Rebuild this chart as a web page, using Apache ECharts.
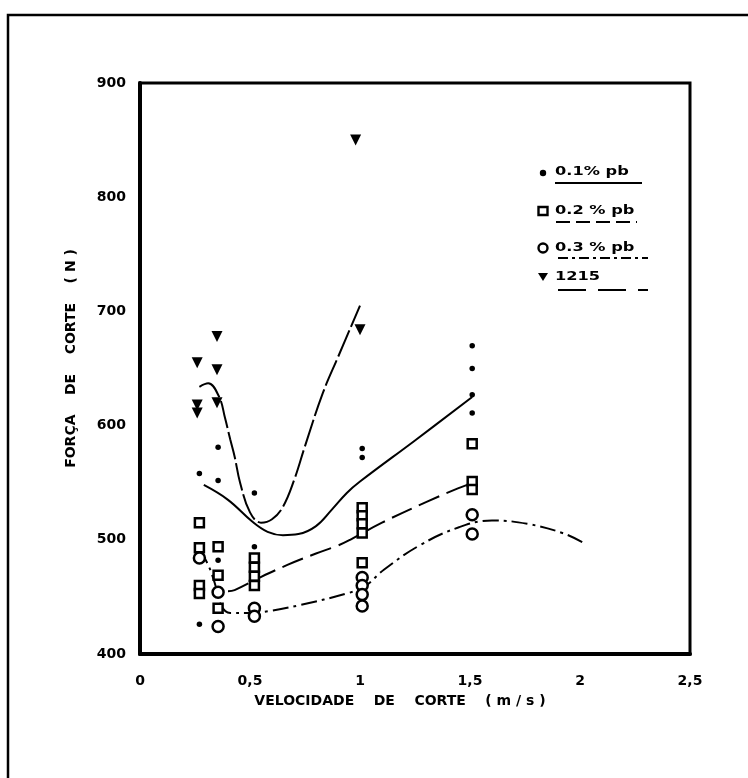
<!DOCTYPE html>
<html>
<head>
<meta charset="utf-8">
<script src="https://cdn.jsdelivr.net/npm/echarts@6/dist/echarts.min.js"></script>
<style>
  html, body { margin: 0; padding: 0; background: #fff; }
  #chart { width: 748px; height: 778px; }
</style>
</head>
<body>
<div id="chart"></div>
<script>
// Measured cutting force (N) against cutting speed (m/s), one list per material
const pb01Points = [[0.27,558],[0.27,426],[0.355,581],[0.355,552],[0.355,482],[0.52,541],[0.52,494],[1.01,580],[1.01,572],[1.51,670],[1.51,650],[1.51,627],[1.51,611]];
const pb02Points = [[0.27,515],[0.27,493],[0.27,460],[0.27,453],[0.355,494],[0.355,469],[0.355,440],[0.52,484],[0.52,476],[0.52,468],[0.52,460],[1.01,528],[1.01,521],[1.01,514],[1.01,506],[1.01,480],[1.51,584],[1.51,551],[1.51,544]];
const pb03Points = [[0.27,484],[0.355,454],[0.355,424],[0.52,440],[0.52,433],[1.01,467],[1.01,460],[1.01,452],[1.01,442],[1.51,522],[1.51,505]];
const s1215Points = [[0.26,655],[0.26,618],[0.26,611],[0.35,678],[0.35,649],[0.35,620],[0.98,850],[1.0,684]];

// Hand-fitted trend curves
const pb01Curve = [[0.29,548],[0.4,535],[0.51,516],[0.58,507],[0.65,504],[0.72,505],[0.8,512],[0.87,526],[0.94,541],[1.0,551],[1.25,587],[1.51,625]];
const pb02Curve = [[0.4,455],[0.43,456],[0.545,467],[0.67,478],[0.8,488],[0.9,495],[0.955,500],[1.1,515],[1.3,533],[1.445,545],[1.5,549]];
const pb03Curve = [[0.27,492],[0.31,478],[0.34,462],[0.37,442],[0.41,436],[0.5,436],[0.6,438],[0.73,443],[0.94,453],[1.02,459],[1.11,474],[1.27,495],[1.45,511],[1.6,517],[1.76,514],[1.92,506],[2.02,497]];
const s1215Curve = [[0.27,634],[0.31,637],[0.36,625],[0.386,607],[0.41,588],[0.43,573],[0.455,550],[0.5,524],[0.55,515],[0.6,518],[0.65,529],[0.7,552],[0.75,582],[0.83,628],[0.9,660],[1.0,705]];

const legendLabels = ['0.1% pb', '0.2 % pb', '0.3 % pb', '1215'];
const xTicks = { min: 0, max: 2.5, step: 0.5 };
const yTicks = { min: 400, max: 900, step: 100 };

const FONT = 'DejaVu Sans';
const INK = '#000';

const dashes = {
  pb01: 'solid',
  pb02: [22, 8],
  pb03: [16, 5, 3, 5],
  s1215: [28, 4]
};

function curve(name, data, dash) {
  return {
    name: name, type: 'line', data: data, smooth: 0.4,
    showSymbol: false, silent: true, z: 2,
    lineStyle: { color: INK, width: 2, type: dash }
  };
}

function points(name, data, symbol, size, filled, rotate) {
  return {
    name: name, type: 'scatter', data: data, symbol: symbol,
    symbolSize: size, symbolRotate: rotate || 0, z: 5,
    itemStyle: filled
      ? { color: INK, opacity: 1 }
      : { color: '#fff', borderColor: INK, borderWidth: 2.5, opacity: 1 }
  };
}

// Legend block: marker, label and a sample of the line style underneath
const legendX = 543, textX = 555;
const legendRows = [172, 211, 248, 277];
const legendGraphics = [];
legendLabels.forEach(function (label, i) {
  const y = legendRows[i];
  if (i === 0) legendGraphics.push({ type: 'circle', shape: { cx: legendX, cy: y + 1, r: 3.2 }, style: { fill: INK } });
  if (i === 1) legendGraphics.push({ type: 'rect', shape: { x: legendX - 4.5, y: y - 4, width: 9, height: 8 }, style: { fill: '#fff', stroke: INK, lineWidth: 2.4 } });
  if (i === 2) legendGraphics.push({ type: 'circle', shape: { cx: legendX, cy: y, r: 4.5 }, style: { fill: '#fff', stroke: INK, lineWidth: 2.4 } });
  if (i === 3) legendGraphics.push({ type: 'polygon', shape: { points: [[legendX - 5, y - 4], [legendX + 5, y - 4], [legendX, y + 4]] }, style: { fill: INK } });
  legendGraphics.push({
    type: 'text', x: textX, y: y, scaleX: 1.35, originX: 0, originY: 0,
    style: {
      text: label, fill: INK, font: 'bold 12px "' + FONT + '"',
      textVerticalAlign: 'middle', verticalAlign: 'middle'
    }
  });
});
const underlineRows = [
  { y: 183, x1: 555, x2: 642, dash: null },
  { y: 222, x1: 556, x2: 637, dash: [14, 6] },
  { y: 258, x1: 558, x2: 648, dash: [10, 4, 3, 4] },
  { y: 290, x1: 558, x2: 648, dash: [28, 12] }
];
underlineRows.forEach(function (u) {
  legendGraphics.push({
    type: 'line', shape: { x1: u.x1, y1: u.y, x2: u.x2, y2: u.y },
    style: { stroke: INK, lineWidth: 1.8, lineDash: u.dash }
  });
});

const chart = echarts.init(document.getElementById('chart'), null, { renderer: 'canvas' });
chart.setOption({
  backgroundColor: '#fff',
  animation: false,
  grid: {
    left: 140, right: 58, top: 83, bottom: 124,
    show: true, borderColor: INK, borderWidth: 3, backgroundColor: 'transparent'
  },
  xAxis: {
    type: 'value', min: xTicks.min, max: xTicks.max, interval: xTicks.step,
    name: 'VELOCIDADE    DE    CORTE    ( m / s )',
    nameLocation: 'middle', nameGap: 40,
    nameTextStyle: { fontFamily: FONT, fontWeight: 'bold', fontSize: 14, color: INK, padding: [0, 30, 0, 0] },
    axisLine: { show: true, onZero: false, lineStyle: { color: INK, width: 4 } },
    axisTick: { show: false },
    splitLine: { show: false },
    axisLabel: {
      margin: 20, color: INK, fontFamily: FONT, fontWeight: 'bold', fontSize: 14,
      formatter: function (v) { return String(v).replace('.', ','); }
    }
  },
  yAxis: {
    type: 'value', min: yTicks.min, max: yTicks.max, interval: yTicks.step,
    name: 'FORÇA    DE    CORTE    ( N )',
    nameLocation: 'middle', nameGap: 62, nameRotate: 90,
    nameTextStyle: { fontFamily: FONT, fontWeight: 'bold', fontSize: 14, color: INK, padding: [0, 0, 0, 20] },
    axisLine: { show: true, onZero: false, lineStyle: { color: INK, width: 4 } },
    axisTick: { show: false },
    splitLine: { show: false },
    axisLabel: { margin: 14, color: INK, fontFamily: FONT, fontWeight: 'bold', fontSize: 14 }
  },
  graphic: [
    {
      type: 'polyline', shape: { points: [[8, 778], [8, 15], [748, 15]] },
      style: { stroke: INK, lineWidth: 2.5, fill: null }
    }
  ].concat(legendGraphics),
  series: [
    curve('0.1% pb', pb01Curve, dashes.pb01),
    curve('0.2 % pb', pb02Curve, dashes.pb02),
    curve('0.3 % pb', pb03Curve, dashes.pb03),
    curve('1215', s1215Curve, dashes.s1215),
    points('0.1% pb', pb01Points, 'circle', 5.5, true),
    points('0.2 % pb', pb02Points, 'rect', 9, false),
    points('0.3 % pb', pb03Points, 'circle', 11, false),
    points('1215', s1215Points, 'triangle', 11, true, 180)
  ]
});
</script>
</body>
</html>
